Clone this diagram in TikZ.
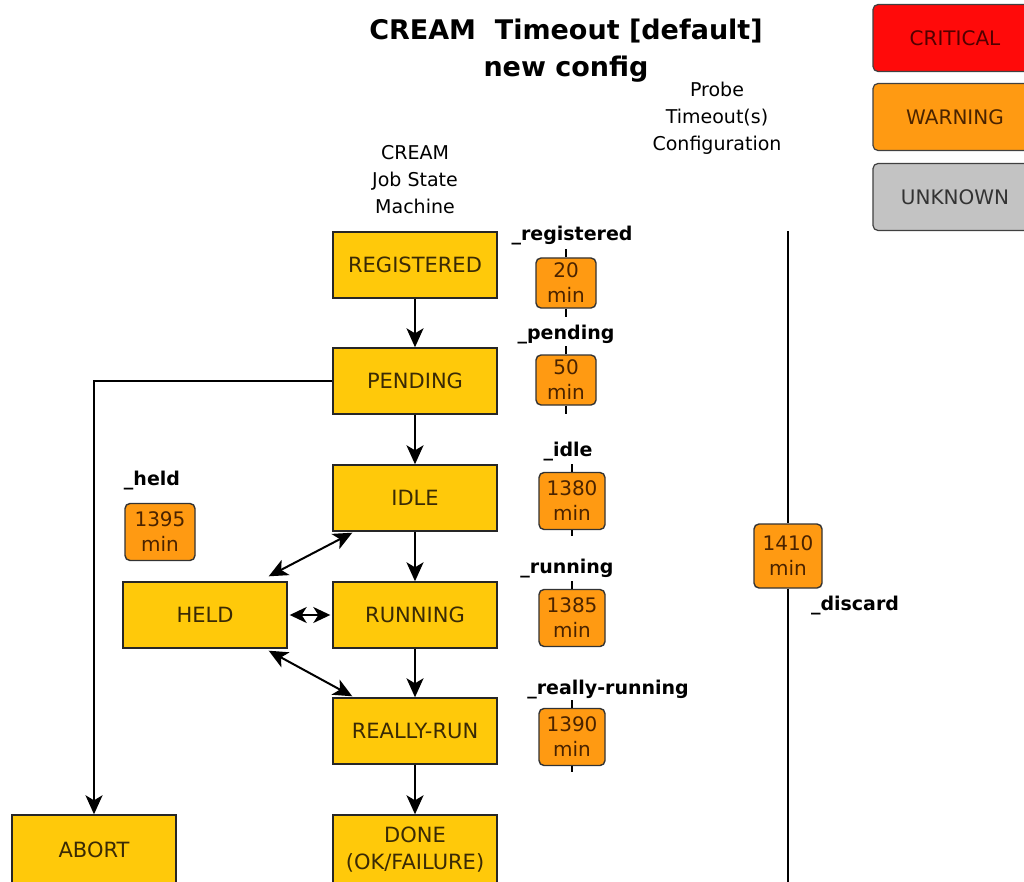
\documentclass[tikz,border=0pt]{standalone}
\usepackage{fontspec}
\setmainfont{DejaVu Sans}
\usetikzlibrary{arrows.meta,calc}
\definecolor{stateY}{HTML}{FFC90A}
\definecolor{tmo}{HTML}{FF9A12}
\definecolor{crit}{HTML}{FF0A0A}
\definecolor{unk}{HTML}{C3C3C3}
\definecolor{boxtxt}{HTML}{3A2A05}
\definecolor{tmotxt}{HTML}{4A2300}
\begin{document}
\begin{tikzpicture}[x=1pt,y=-1pt,
  state/.style={draw=black!85, fill=stateY, line width=1.4pt, minimum width=164pt, minimum height=66pt, inner sep=0pt, align=center, text=boxtxt, font=\fontsize{21}{27}\selectfont},
  tbox/.style={draw=black!80, fill=tmo, line width=1.4pt, rounded corners=5pt, minimum width=60pt, minimum height=50pt, inner sep=0pt, align=center, text=tmotxt, font=\fontsize{20}{25}\selectfont},
  wbox/.style={tbox, minimum width=66pt, minimum height=57pt},
  legbox/.style={draw=black!75, line width=1.2pt, rounded corners=5pt, minimum width=164pt, minimum height=67pt, inner sep=0pt, font=\fontsize{20}{24}\selectfont},
  lbl/.style={font=\bfseries\fontsize{19}{23}\selectfont, inner sep=0pt},
  txt/.style={font=\fontsize{19}{27}\selectfont, align=center, inner sep=0pt},
  arr/.style={-{Stealth[length=19pt,width=17pt,inset=5pt]}, line width=2pt},
  dbl/.style={{Stealth[length=19pt,width=17pt,inset=5pt]}-{Stealth[length=19pt,width=17pt,inset=5pt]}, line width=2pt},
  sdbl/.style={{Stealth[length=17pt,width=16pt,inset=5pt]}-{Stealth[length=17pt,width=16pt,inset=5pt]}, line width=2pt},
  tline/.style={line width=2pt}
]
\useasboundingbox (0,0) rectangle (1024,882);
\clip (0,0) rectangle (1024,882);
\fill[white] (0,0) rectangle (1024,882);

% titles
\node[font=\bfseries\fontsize{27}{37}\selectfont, align=center, inner sep=0pt] (title) at (566,51) {CREAM\ \ Timeout [default]\\new config};
\node[txt] (probe) at (717,118) {Probe\\Timeout(s)\\Configuration};
\node[txt] (jsm) at (415,180) {CREAM\\Job State\\Machine};

% legend
\node[legbox, fill=crit, text=black!60!red!80!black] (crit) at (955,38) {CRITICAL};
\node[legbox, fill=tmo, text=tmotxt] (warn) at (955,117) {WARNING};
\node[legbox, fill=unk, text=black!80] (unknown) at (955,197) {UNKNOWN};

% states
\node[state] (reg) at (415,265) {REGISTERED};
\node[state] (pend) at (415,381) {PENDING};
\node[state] (idle) at (415,498) {IDLE};
\node[state] (run) at (415,615) {RUNNING};
\node[state] (rr) at (415,731) {REALLY-RUN};
\node[state, minimum height=70pt] (done) at (415,850) {DONE\\(OK/FAILURE)};
\node[state] (held) at (205,615) {HELD};
\node[state, minimum height=70pt] (abort) at (94,850) {ABORT};

% transitions
\draw[arr] (reg) -- (pend);
\draw[arr] (pend) -- (idle);
\draw[arr] (idle) -- (run);
\draw[arr] (run) -- (rr);
\draw[arr] (rr) -- (done);
\draw[arr] (pend.west) -| (abort.north);
\draw[dbl] ($(held.north east)+(-19,-5)$) -- ($(idle.south west)+(20,1)$);
\draw[dbl] ($(held.south east)+(-19,2)$) -- ($(rr.north west)+(20,-1)$);
\draw[sdbl] ($(held.east)+(2,0)$) -- ($(run.west)+(-2,0)$);

% timeout boxes
\node[tbox] (t20) at (566,283) {20\\min};
\node[tbox] (t50) at (566,380) {50\\min};
\node[wbox] (t1380) at (572,501) {1380\\min};
\node[wbox] (t1385) at (572,618) {1385\\min};
\node[wbox] (t1390) at (572,737) {1390\\min};
\node[wbox, minimum width=70pt] (t1395) at (160,532) {1395\\min};

\draw[tline] (t20.north) -- ++(0,-8);
\draw[tline] (t20.south) -- ++(0,8);
\draw[tline] (t50.north) -- ++(0,-8);
\draw[tline] (t50.south) -- ++(0,8);
\draw[tline] (t1380.north) -- ++(0,-8);
\draw[tline] (t1380.south) -- ++(0,6);
\draw[tline] (t1385.north) -- ++(0,-8);
\draw[tline] (t1390.north) -- ++(0,-8);
\draw[tline] (t1390.south) -- ++(0,6);

% timeout labels
\node[lbl] (lreg) at (572,236) {\_registered};
\node[lbl] (lpend) at (566,335) {\_pending};
\node[lbl] (lidle) at (568,452) {\_idle};
\node[lbl] (lrun) at (567,569) {\_running};
\node[lbl] (lrr) at (608,690) {\_really-running};
\node[lbl] (lheld) at (152,481) {\_held};

% discard line
\coordinate (dtop) at (788,231);
\coordinate (dbot) at (788,890);
\node[wbox, minimum width=68pt, minimum height=64pt] (t1410) at (788,556) {1410\\min};
\draw[line width=2.5pt] (dtop) -- (t1410.north);
\draw[line width=2.5pt] (t1410.south) -- (dbot);
\node[lbl] (ldisc) at (855,606) {\_discard};
\end{tikzpicture}
\end{document}
